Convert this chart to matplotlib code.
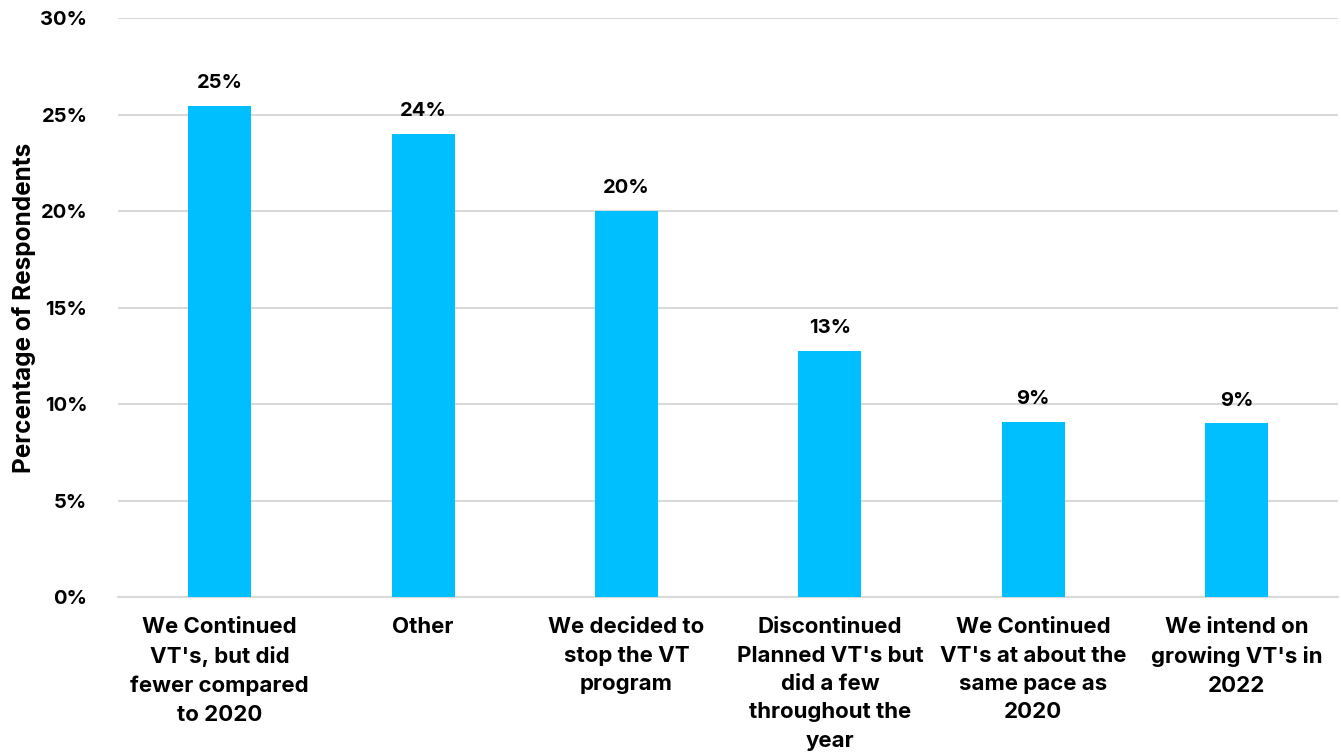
import matplotlib
matplotlib.use("Agg")
import matplotlib.pyplot as plt
from matplotlib.ticker import FuncFormatter

categories = [
    "We Continued\nVT's, but did\nfewer compared\nto 2020",
    "Other",
    "We decided to\nstop the VT\nprogram",
    "Discontinued\nPlanned VT's but\ndid a few\nthroughout the\nyear",
    "We Continued\nVT's at about the\nsame pace as\n2020",
    "We intend on\ngrowing VT's in\n2022",
]
shares = [25.45, 24.0, 20.0, 12.75, 9.1, 9.0]
yticks = [0, 5, 10, 15, 20, 25, 30]

plt.rcParams.update({"font.family": "Inter", "font.weight": "bold"})

fig = plt.figure(figsize=(13.41, 7.55), dpi=100)
ax = fig.add_axes([0.088, 0.209, 0.91, 0.767])

x = range(len(categories))
ax.bar(x, shares, width=0.31, color="#00BFFF", zorder=3)
for xi, v in zip(x, shares):
    ax.annotate(f"{v:.0f}%", (xi, v), xytext=(0, 10), textcoords="offset points",
                ha="center", va="bottom", fontsize=14.5, fontweight="bold")

ax.set_xlim(-0.5, len(categories) - 0.5)
ax.set_ylim(0, 30)
ax.set_yticks(yticks)
ax.yaxis.set_major_formatter(FuncFormatter(lambda v, _: f"{v:.0f}%"))
ax.set_xticks(list(x))
ax.set_xticklabels(categories, fontsize=16, fontweight="bold", linespacing=1.52, va="top")
ax.tick_params(axis="x", length=0, pad=14.5)
ax.tick_params(axis="y", length=0, pad=22, labelsize=14.5)
for lab in ax.get_yticklabels():
    lab.set_fontweight("bold")

ax.grid(axis="y", color="#D9D9D9", lw=1.5, zorder=0)
for side in ("left", "right", "top"):
    ax.spines[side].set_visible(False)
ax.spines["bottom"].set_color("#D9D9D9")
ax.spines["bottom"].set_linewidth(1.5)

ax.set_ylabel("Percentage of Respondents", fontsize=17.5, fontweight="bold")
ax.yaxis.set_label_coords(-0.067, 0.5)

fig.savefig("out.png", dpi=100)
